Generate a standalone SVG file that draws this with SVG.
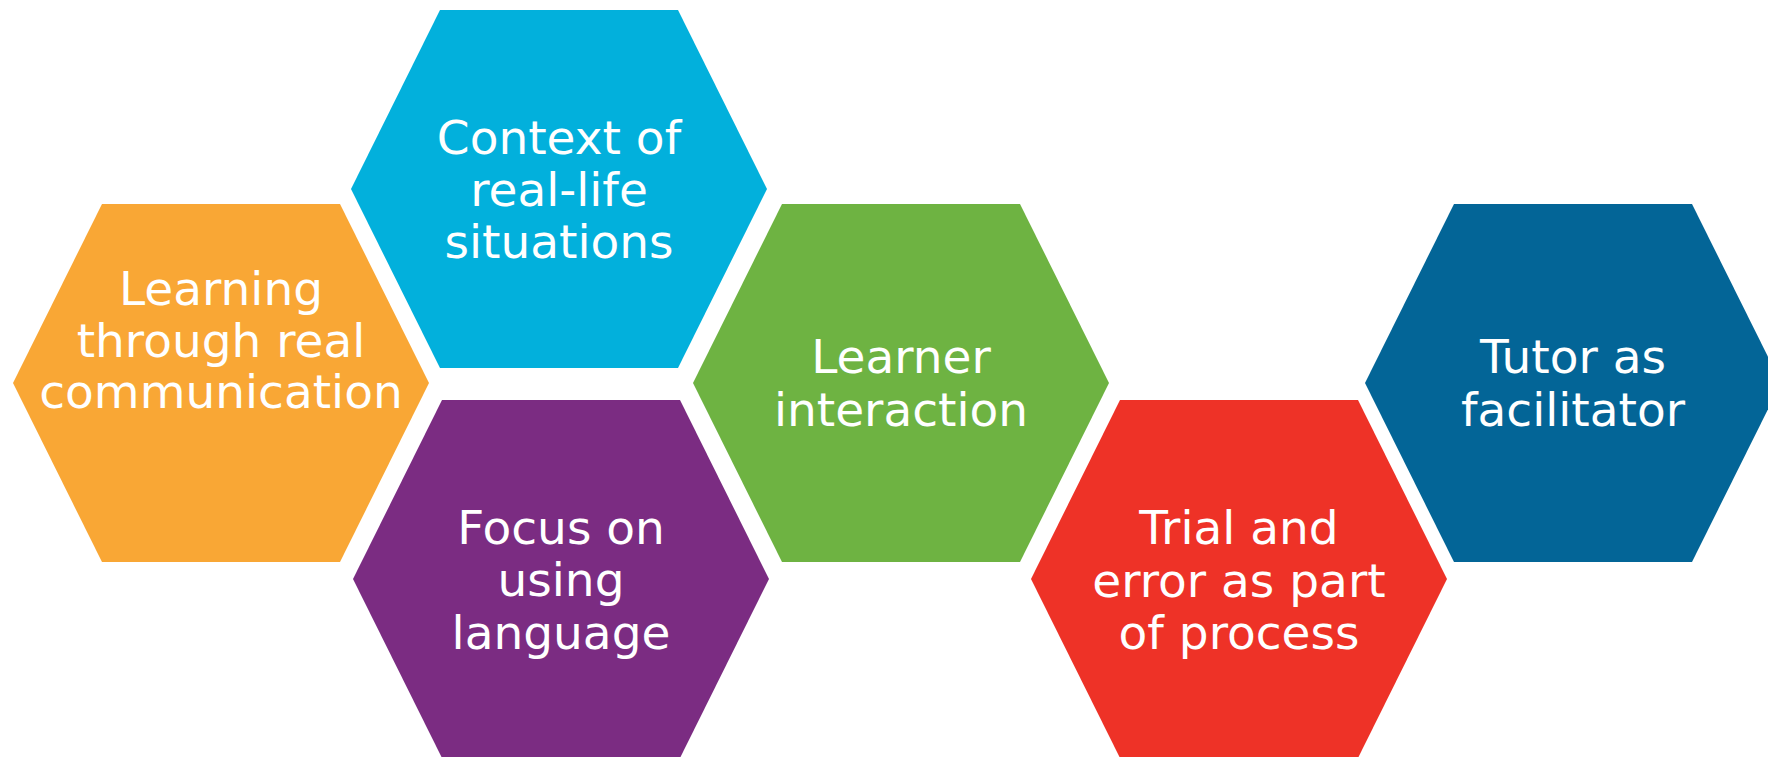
<svg xmlns="http://www.w3.org/2000/svg" width="1768" height="757" viewBox="0 0 1768 757">
<style>
.lbl{font-family:"DejaVu Sans","Verdana",sans-serif;font-size:47px;fill:#ffffff;text-anchor:middle}
</style>
<rect width="1768" height="757" fill="#ffffff"/>
<g id="connectors"></g>
<g id="node-orange">
<polygon points="13,383 102,204 340,204 429,383 340,562 102,562" fill="#F9A735"/>
<text class="lbl" x="221" y="305">Learning</text>
<text class="lbl" x="221" y="357">through real</text>
<text class="lbl" x="221" y="408">communication</text>
</g>
<g id="node-blue">
<polygon points="351,189 440,10 678,10 767,189 678,368 440,368" fill="#02B0DC"/>
<text class="lbl" x="559" y="154">Context of</text>
<text class="lbl" x="559" y="206">real-life</text>
<text class="lbl" x="559" y="258">situations</text>
</g>
<g id="node-purple">
<polygon points="353,579 442,400 680,400 769,579 680,758 442,758" fill="#7B2C82"/>
<text class="lbl" x="561" y="544">Focus on</text>
<text class="lbl" x="561" y="596">using</text>
<text class="lbl" x="561" y="649">language</text>
</g>
<g id="node-green">
<polygon points="693,383 782,204 1020,204 1109,383 1020,562 782,562" fill="#6EB342"/>
<text class="lbl" x="901" y="373">Learner</text>
<text class="lbl" x="901" y="426">interaction</text>
</g>
<g id="node-red">
<polygon points="1031,579 1120,400 1358,400 1447,579 1358,758 1120,758" fill="#EE3227"/>
<text class="lbl" x="1239" y="544">Trial and</text>
<text class="lbl" x="1239" y="597">error as part</text>
<text class="lbl" x="1239" y="649">of process</text>
</g>
<g id="node-darkblue">
<polygon points="1365,383 1454,204 1692,204 1781,383 1692,562 1454,562" fill="#036597"/>
<text class="lbl" x="1573" y="373">Tutor as</text>
<text class="lbl" x="1573" y="426">facilitator</text>
</g>
</svg>
